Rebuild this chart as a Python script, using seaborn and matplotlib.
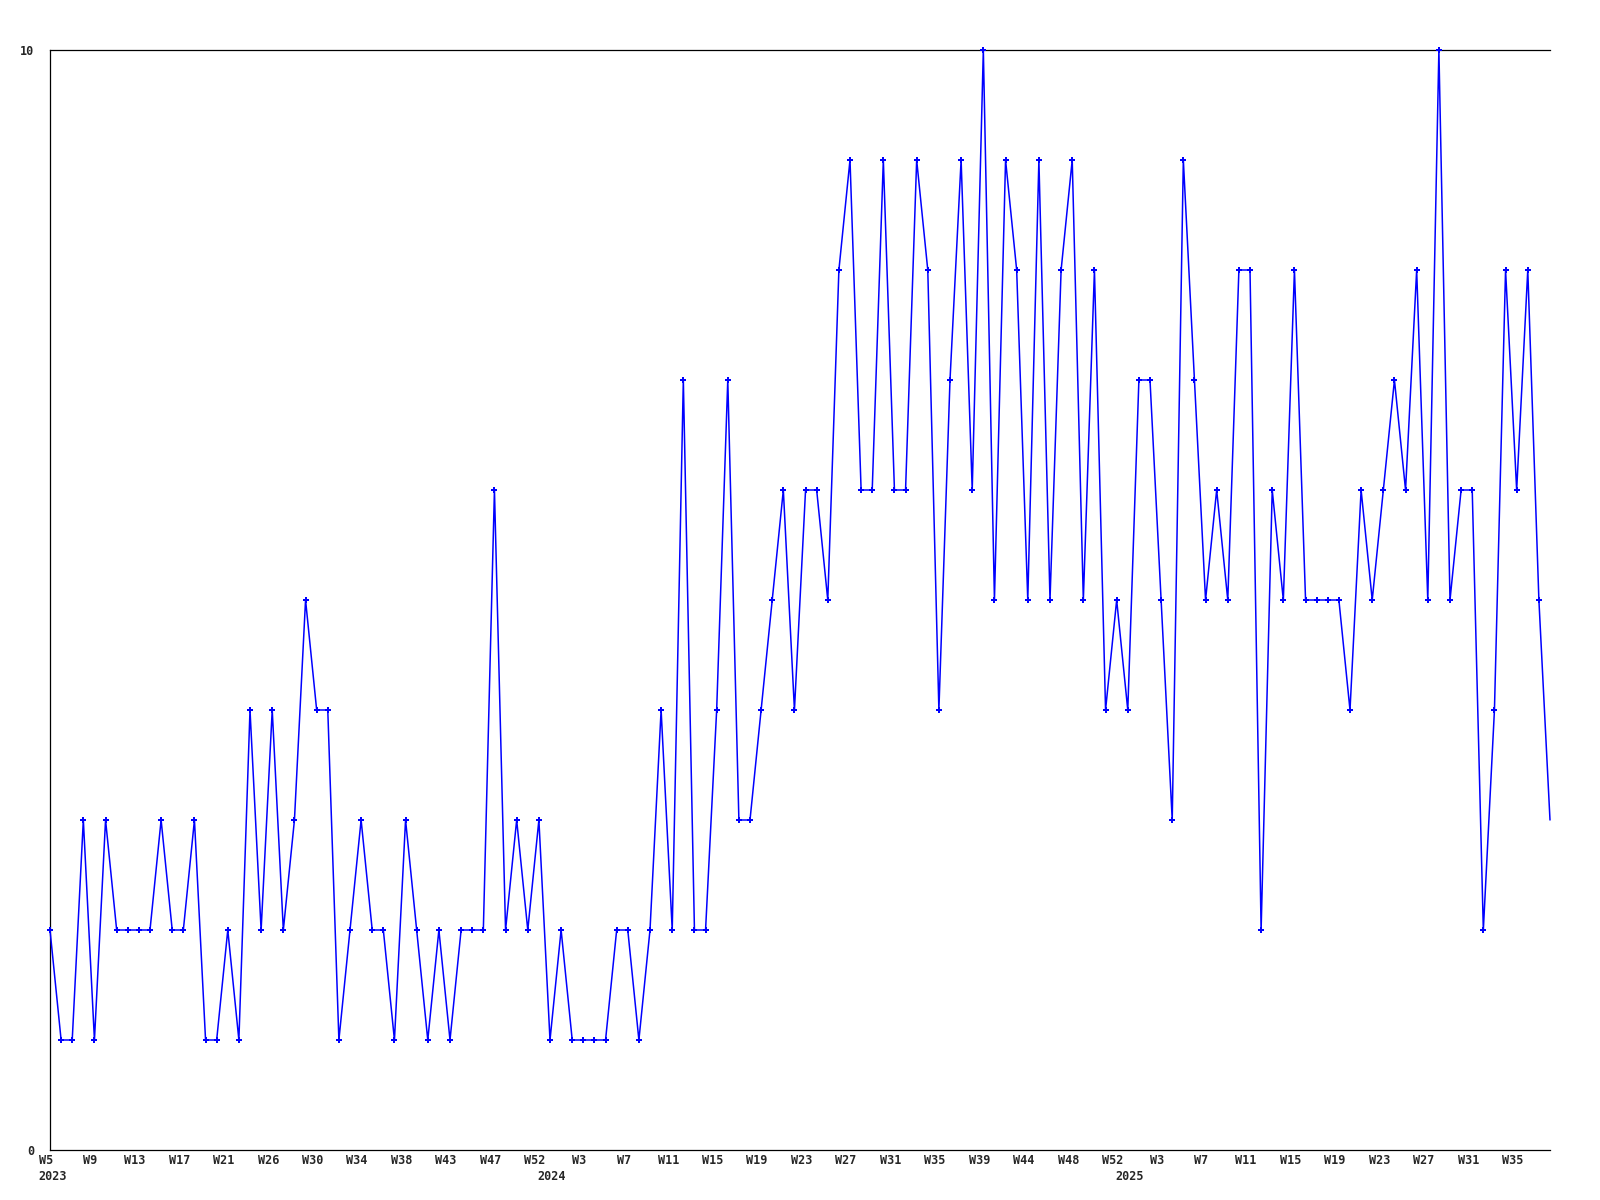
import numpy as np
import pandas as pd
import matplotlib
matplotlib.use("Agg")
import matplotlib.pyplot as plt
import matplotlib.transforms as mtransforms
import seaborn as sns

# weekly values, 2023 W5 .. 2025 W38
values = [2, 1, 1, 3, 1, 3, 2, 2, 2, 2, 3, 2, 2, 3, 1, 1, 2, 1, 4, 2,
          4, 2, 3, 5, 4, 4, 1, 2, 3, 2, 2, 1, 3, 2, 1, 2, 1, 2, 2, 2,
          6, 2, 3, 2, 3, 1, 2, 1, 1, 1, 1, 2, 2, 1, 2, 4, 2, 7, 2, 2,
          4, 7, 3, 3, 4, 5, 6, 4, 6, 6, 5, 8, 9, 6, 6, 9, 6, 6, 9, 8,
          4, 7, 9, 6, 10, 5, 9, 8, 5, 9, 5, 8, 9, 5, 8, 4, 5, 4, 7, 7,
          5, 3, 9, 7, 5, 6, 5, 8, 8, 2, 6, 5, 8, 5, 5, 5, 5, 4, 6, 5,
          6, 7, 6, 8, 5, 10, 5, 6, 6, 2, 4, 8, 6, 8, 5, 3]

# one label every 4 weeks
week_labels = ["W5", "W9", "W13", "W17", "W21", "W26", "W30", "W34", "W38",
               "W43", "W47", "W52", "W3", "W7", "W11", "W15", "W19", "W23",
               "W27", "W31", "W35", "W39", "W44", "W48", "W52", "W3", "W7",
               "W11", "W15", "W19", "W23", "W27", "W31", "W35"]
years = ["2023", "2024", "2025"]
year_tick = [0, 11, 24]   # which week label the year sits under

y_labels = ["0", "10"]

df = pd.DataFrame({"idx": np.arange(len(values)), "value": values})

sns.set_style("white")
plt.rcParams["font.family"] = ["DejaVu Sans Mono"]

fig = plt.figure(figsize=(16, 12), dpi=100)
ax = fig.add_axes([50 / 1600, 1 - 1150 / 1200, 1500 / 1600, 1100 / 1200])

sns.lineplot(data=df, x="idx", y="value", ax=ax, color="#0000ff",
             linewidth=1.1, estimator=None, sort=False,
             marker="P", markersize=5, markeredgewidth=0,
             markevery=list(range(len(values) - 1)), clip_on=False,
             zorder=5)

ax.set_xlim(0, len(values) - 1)
ax.set_ylim(0, 10)
ax.set_xlabel("")
ax.set_ylabel("")

tick_pos = np.arange(0, 4 * len(week_labels), 4)
ax.set_xticks(tick_pos)
ax.set_xticklabels(week_labels, fontsize=8.5, fontweight="bold")
ax.set_yticks([0, 10])
ax.set_yticklabels(y_labels, fontsize=8.5, fontweight="bold")
ax.tick_params(axis="x", length=0, pad=3)
ax.tick_params(axis="y", length=0, pad=11.5)

shift = mtransforms.ScaledTranslation(-4 / 100, 0, fig.dpi_scale_trans)
for lbl in ax.get_xticklabels():
    lbl.set_transform(lbl.get_transform() + shift)

# year labels under the first label of each year
year_dx = [3, 13, 13]
for yr, t, dx in zip(years, year_tick, year_dx):
    off = mtransforms.ScaledTranslation(dx / 100, -27 / 100, fig.dpi_scale_trans)
    ax.text(tick_pos[t], 0, yr, transform=ax.get_xaxis_transform() + off,
            ha="center", va="center", fontsize=8.5, fontweight="bold")

for side in ["left", "bottom", "top"]:
    ax.spines[side].set_color("black")
    ax.spines[side].set_linewidth(0.9)
ax.spines["right"].set_visible(False)

fig.savefig("out.png", dpi=100, facecolor="white")
